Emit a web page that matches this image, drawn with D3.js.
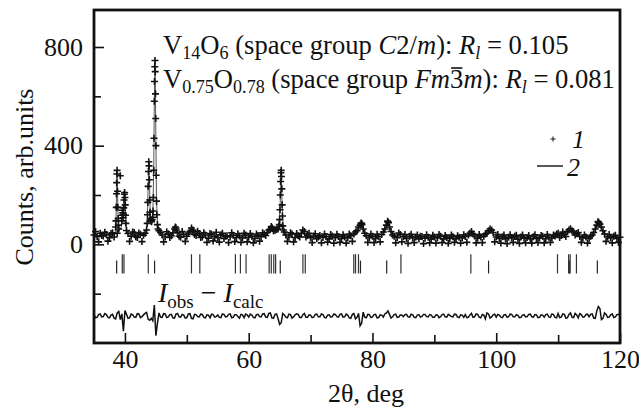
<!DOCTYPE html>
<html>
<head>
<meta charset="utf-8">
<script src="https://cdn.jsdelivr.net/npm/d3@7"></script>
<style>
  body { margin: 0; background: #fff; }
  svg { display: block; }
  text { font-family: "Liberation Serif", "Times New Roman", Times, "DejaVu Serif", serif; }
</style>
</head>
<body>
<svg id="chart" width="639" height="409"></svg>
<script>
// observed counts, 0.5 deg grid from 35 and a second grid shifted by 0.25 deg
var gridStart = 35, gridStep = 0.5;
var observedGrid = [
  38,31,45,34,40,27,47,70,62,95,
  190,44,33,48,28,41,37,58,180,110,
  400,55,38,30,43,35,62,48,29,40,
  33,52,58,36,44,30,38,25,41,32,
  27,39,24,35,30,37,28,34,26,38,
  29,33,24,36,31,42,48,62,55,60,
  100,75,38,30,42,28,35,44,52,36,
  27,34,23,36,28,31,22,34,27,32,
  24,30,26,35,42,55,78,62,35,27,
  33,24,31,40,62,90,52,33,27,40,
  31,24,33,26,30,22,32,25,29,21,
  30,26,33,22,28,24,31,23,29,26,
  32,38,52,34,25,30,33,45,62,48,
  30,24,31,22,29,26,33,21,30,25,
  28,22,31,24,27,33,23,29,26,34,
  45,36,40,52,63,50,44,32,26,30,
  24,38,62,90,70,42,30,26,33,24,
  29
];
var observedMid = [
  52,10,36,49,13,44,30,45,278,122,
  56,12,50,31,46,11,45,235,95,580,
  80,48,10,51,28,47,66,33,52,12,
  46,66,40,53,28,47,8,44,14,49,
  9,45,33,7,47,11,43,8,45,10,
  44,6,42,13,47,36,58,68,56,62,
  300,50,12,47,10,44,30,58,30,45,
  7,43,30,6,42,9,40,5,41,8,
  39,5,42,12,50,70,84,45,8,42,
  7,41,10,50,78,70,38,6,46,10,
  40,4,41,7,38,33,3,39,6,37,
  5,40,7,36,4,38,8,35,5,39,
  8,45,42,6,40,7,42,55,58,10,
  40,5,38,3,39,8,37,4,38,6,
  36,5,39,7,36,6,40,8,38,42,
  28,50,32,58,55,38,48,8,38,5,
  33,48,78,82,55,12,40,6,37,8
];

// extra observed points across the peaks [2theta, counts]
var peakPoints = [
  [38.55,95],[38.6,150],[38.63,205],[38.66,250],[38.7,285],[38.73,300],[38.8,215],[38.85,150],[38.9,105],[38.95,78],
  [39.55,118],[39.6,138],[39.65,128],[39.7,108],[39.8,148],[39.85,180],[39.9,203],[39.95,210],[40.05,160],[40.1,118],[40.15,85],
  [43.6,85],[43.65,120],[43.7,170],[43.8,295],[43.85,335],[43.9,318],[43.95,262],[44.05,130],[44.1,105],[44.2,98],[44.3,92],[44.4,100],
  [44.55,135],[44.6,190],[44.65,300],[44.7,430],[44.78,660],[44.82,720],[44.86,745],[44.9,700],[44.94,610],[44.97,510],[45.05,280],[45.1,175],[45.15,120],[45.35,62],
  [48.15,70],[48.3,58],[50.9,55],[63.65,72],[63.8,64],
  [64.9,72],[64.95,80],[65.05,140],[65.1,200],[65.15,255],[65.2,290],[65.3,275],[65.35,225],[65.4,160],[65.45,115],[65.6,58],
  [78.15,86],[78.3,80],[82.45,94],[82.6,88],[116.45,92],[116.6,86]
];

// calculated profile [2theta, counts]
var calcProfile = [
  [35,34],[38.4,38],[38.55,90],[38.63,200],[38.7,290],[38.76,275],[38.85,150],[38.95,75],[39.1,55],[39.4,70],
  [39.55,120],[39.62,135],[39.7,110],[39.8,148],[39.9,205],[39.95,212],[40.05,160],[40.15,85],[40.3,50],[40.6,36],
  [43.4,42],[43.6,85],[43.75,235],[43.85,335],[43.95,262],[44.1,110],[44.3,95],[44.5,112],[44.65,300],[44.75,580],
  [44.86,742],[44.97,510],[45.1,175],[45.3,70],[45.6,42],[47.8,40],[48.15,66],[48.5,42],[50.4,40],[50.8,62],
  [51.2,42],[52.1,44],[53,34],[62.5,38],[63.6,62],[64.4,58],[64.9,75],[65.05,140],[65.25,298],[65.4,160],
  [65.6,60],[66,38],[68.9,46],[70,32],[76.8,36],[77.4,50],[78.2,84],[78.7,45],[79.5,32],[81.8,40],
  [82.5,92],[83.1,45],[84.6,40],[85.5,30],[95.6,32],[96.1,50],[96.6,32],[98.6,40],[99.1,60],[99.7,34],
  [109.6,34],[110,44],[111.7,50],[112.1,60],[112.9,45],[113.6,32],[115.8,38],[116.5,88],[117.1,55],[117.8,32],
  [120,30]
];

// Iobs - Icalc on the same two grids
var diffGrid = [
  4,-6,8,-3,5,-8,6,-12,18,8,
  22,-10,7,-5,9,-7,4,14,-18,-20,
  -80,12,-6,8,-4,6,-9,10,-5,3,
  -7,9,-12,5,-4,6,-8,3,7,-5,
  4,-7,6,-3,8,-6,5,-9,4,7,
  -5,3,-8,6,-4,9,-6,12,-10,8,
  -35,10,-5,7,-9,4,6,-7,10,-6,
  3,-5,7,-4,5,-8,4,-3,6,-5,
  8,-4,3,-10,9,-6,-40,15,-8,5,
  -4,6,-7,3,8,20,-9,5,-6,4,
  -3,6,-5,4,-7,5,-2,6,-4,3,
  -6,4,-3,7,-5,2,-4,6,-7,3,
  5,-6,10,-4,6,-8,3,12,-9,4,
  -5,3,-7,5,-3,6,-4,2,-6,5,
  -3,7,-5,4,-6,3,5,-4,8,-6,
  10,-5,6,-8,12,-7,4,9,-5,6,
  -4,8,-10,38,-15,12,-6,4,-7,5,
  3
];
var diffMid = [
  -7,5,-4,9,-6,3,-9,12,-15,-62,
  6,-8,4,-6,8,-3,10,-14,-10,44,
  -30,-5,9,-7,5,-8,7,-4,6,-9,
  8,-10,6,-3,7,-6,4,-8,5,-3,
  -6,8,-4,6,-7,5,-3,6,-8,4,
  7,-6,5,-3,8,-5,10,-8,6,-12,
  -28,4,-8,5,-4,8,-7,5,-6,4,
  -7,6,-4,8,-6,3,-5,7,-3,6,
  -5,7,-8,6,-12,10,-30,-5,6,-7,
  5,-8,4,-5,12,6,-4,7,-5,3,
  5,-4,7,-6,3,-5,6,-3,5,-6,
  4,-7,5,-4,6,-3,7,-5,4,-6,
  -7,4,-6,8,-5,6,-12,8,-4,7,
  6,-5,4,-6,7,-4,5,-7,3,-4,
  6,-4,5,-7,4,-5,7,-6,5,-8,
  -7,8,-9,6,-6,10,-8,5,-4,7,
  6,-9,20,30,-10,6,-5,8,-4,6
];
var diffOffset = -290;

// Bragg positions of the two phases
var braggC2m = [39.57,39.84,43.77,50.75,52.1,57.85,58.66,59.57,63.3,63.65,64.05,64.35,68.76,69.14,76.98,77.26,77.74,84.6,95.9,109.9,111.7,111.95,112.96];
var braggFm3m = [38.66,44.79,65.1,78.06,82.3,98.76,111.8,116.34];

var xMajor = [40,60,80,100,120], xMinor = [50,70,90,110];
var yMajor = [0,400,800], yMinor = [-200,200,600];

var FONT = "'Liberation Serif', 'Times New Roman', Times, 'DejaVu Serif', serif";
var svg = d3.select("#chart").attr("font-family", FONT);
var ink = "#111";

var x = d3.scaleLinear().domain([35,120]).range([94,620]);
var y = d3.scaleLinear().domain([-400,950]).range([343,10]);

function onGrid(arr, start){
  return arr.map(function(v,i){ return [start + i*gridStep, v]; });
}
function byAngle(a,b){ return a[0]-b[0]; }

var observed = onGrid(observedGrid, gridStart)
  .concat(onGrid(observedMid, gridStart + gridStep/2))
  .concat(peakPoints)
  .sort(byAngle);
var diff = onGrid(diffGrid, gridStart)
  .concat(onGrid(diffMid, gridStart + gridStep/2))
  .sort(byAngle);

// calculated line
svg.append("path")
  .datum(calcProfile)
  .attr("fill","none")
  .attr("stroke","#444")
  .attr("stroke-width",0.9)
  .attr("d", d3.line().x(function(d){ return x(d[0]); }).y(function(d){ return y(d[1]); }));

// observed crosses
svg.append("g").selectAll("path")
  .data(observed)
  .enter().append("path")
  .attr("transform", function(d){ return "translate(" + x(d[0]) + "," + y(d[1]) + ")"; })
  .attr("d","M-3.5,0H3.5M0,-3.5V3.5")
  .attr("stroke",ink)
  .attr("stroke-width",1.6);

// bragg ticks
svg.append("g").selectAll("line")
  .data(braggC2m)
  .enter().append("line")
  .attr("x1",function(d){ return x(d); }).attr("x2",function(d){ return x(d); })
  .attr("y1",y(-40)).attr("y2",y(-118))
  .attr("stroke","#333").attr("stroke-width",1.2);
svg.append("g").selectAll("line")
  .data(braggFm3m)
  .enter().append("line")
  .attr("x1",function(d){ return x(d); }).attr("x2",function(d){ return x(d); })
  .attr("y1",y(-66)).attr("y2",y(-118))
  .attr("stroke","#222").attr("stroke-width",1.2);

// difference curve
svg.append("path")
  .datum(diff)
  .attr("fill","none")
  .attr("stroke",ink)
  .attr("stroke-width",1.5)
  .attr("d", d3.line()
    .x(function(d){ return x(d[0]); })
    .y(function(d){ return y(diffOffset + d[1]); }));

// axes
function styleAxis(g){
  g.attr("font-family", FONT).attr("font-size", 26);
  g.select(".domain").remove();
  g.selectAll("line").attr("stroke",ink).attr("stroke-width",1.6);
  g.selectAll("text").attr("fill",ink);
}
svg.append("g").attr("transform","translate(0,343)")
  .call(d3.axisBottom(x).tickValues(xMajor).tickSize(-10).tickPadding(7).tickFormat(d3.format("d")))
  .call(styleAxis);
svg.append("g").attr("transform","translate(0,343)")
  .call(d3.axisBottom(x).tickValues(xMinor).tickSize(-8).tickFormat(""))
  .call(styleAxis);
svg.append("g").attr("transform","translate(94,0)")
  .call(d3.axisLeft(y).tickValues(yMajor).tickSize(-10).tickPadding(11).tickFormat(d3.format("d")))
  .call(styleAxis);
svg.append("g").attr("transform","translate(94,0)")
  .call(d3.axisLeft(y).tickValues(yMinor).tickSize(-7).tickFormat(""))
  .call(styleAxis);

// frame
svg.append("rect")
  .attr("x",x(35)).attr("y",y(950))
  .attr("width",x(120)-x(35)).attr("height",y(-400)-y(950))
  .attr("fill","none").attr("stroke",ink).attr("stroke-width",2.8);

// text with subscripts and italics
function rich(px, py, size, parts){
  var t = svg.append("text").attr("x",px).attr("y",py).attr("fill",ink)
    .attr("font-family", FONT).attr("font-size", size);
  var shift = 0, spans = [];
  parts.forEach(function(p){
    var s = t.append("tspan").text(p.t);
    var target = p.sub ? size*0.2 : 0;
    if (target !== shift){ s.attr("dy", target - shift); shift = target; }
    if (p.sub) s.attr("font-size", size*0.68);
    if (p.i) s.attr("font-style","italic");
    spans.push(s);
  });
  return spans;
}

rich(163, 54, 26.6, [{t:"V"},{t:"14",sub:1},{t:"O"},{t:"6",sub:1},{t:" (space group "},{t:"C",i:1},{t:"2/"},{t:"m",i:1},{t:"): "},{t:"R",i:1},{t:"l",i:1,sub:1},{t:" = 0.105"}]);
var line2 = rich(163, 88, 26.6, [{t:"V"},{t:"0.75",sub:1},{t:"O"},{t:"0.78",sub:1},{t:" (space group "},{t:"Fm",i:1},{t:"3"},{t:"m",i:1},{t:"): "},{t:"R",i:1},{t:"l",i:1,sub:1},{t:" = 0.081"}]);
var bb = line2[6].node().getBBox();
svg.append("line")
  .attr("x1",bb.x+1).attr("x2",bb.x+bb.width-1)
  .attr("y1",bb.y+4).attr("y2",bb.y+4)
  .attr("stroke",ink).attr("stroke-width",1.6);

rich(158, 302, 28, [{t:"I",i:1},{t:"obs",sub:1},{t:" − "},{t:"I",i:1},{t:"calc",sub:1}]);

// legend
svg.append("path").attr("transform","translate(553,139)").attr("d","M-2.5,0H2.5M0,-2.5V2.5").attr("stroke",ink).attr("stroke-width",1);
svg.append("text").attr("x",572).attr("y",148).attr("fill",ink).attr("font-size",26).attr("font-style","italic").text("1");
svg.append("line").attr("x1",537).attr("x2",563).attr("y1",166).attr("y2",166).attr("stroke",ink).attr("stroke-width",1.4);
svg.append("text").attr("x",567).attr("y",176).attr("fill",ink).attr("font-size",26).attr("font-style","italic").text("2");

// axis titles
svg.append("text")
  .attr("transform","translate(33,177) rotate(-90)")
  .attr("text-anchor","middle").attr("fill",ink).attr("font-size",26)
  .text("Counts, arb.units");
svg.append("text")
  .attr("x",366).attr("y",402).attr("text-anchor","middle").attr("fill",ink).attr("font-size",26)
  .text("2θ, deg");
</script>
</body>
</html>
